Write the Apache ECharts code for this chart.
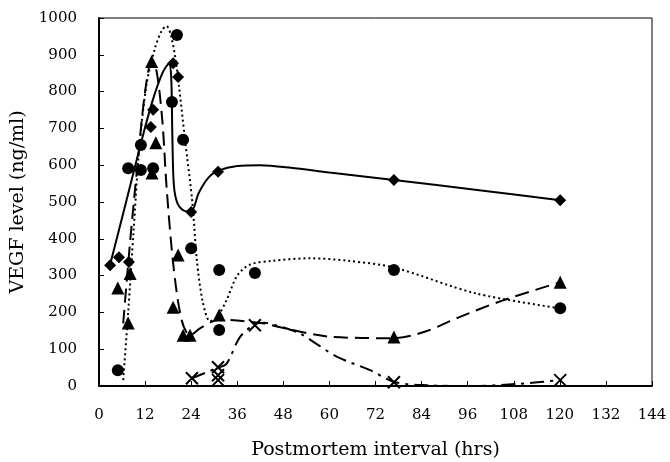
<!DOCTYPE html>
<html>
<head>
<meta charset="utf-8">
<script src="https://cdn.jsdelivr.net/npm/echarts@6/dist/echarts.min.js"></script>
<style>
  html, body { margin: 0; padding: 0; background: #fff; }
  #chart { width: 670px; height: 462px; }
</style>
</head>
<body>
<div id="chart"></div>
<script>
// measured points [hours, ng/ml]
const diamondPts = [[2.9, 328], [5.2, 350], [7.8, 337], [13.5, 704], [14.1, 751], [19.3, 877], [20.6, 840], [24.0, 473], [31.0, 582], [76.8, 560], [120.1, 505]]
const circlePts = [[4.9, 43], [7.6, 592], [10.9, 587], [10.9, 655], [14.1, 592], [19.0, 772], [20.3, 954], [21.9, 669], [24.0, 374], [31.3, 315], [31.3, 152], [40.6, 307], [76.8, 315], [120.1, 211]]
const trianglePts = [[4.9, 266], [7.6, 171], [8.1, 306], [13.7, 882], [13.8, 579], [14.8, 661], [19.3, 214], [20.6, 356], [21.9, 138], [23.7, 138], [31.3, 193], [76.8, 133], [120.1, 282]]
const crossPts = [[24.2, 21], [31.0, 51], [31.0, 29], [31.0, 16], [40.6, 165], [76.8, 10], [120.1, 16]]

// fitted curves
const solidCurve = [[2.9, 330], [7.3, 510], [10.8, 655], [13.8, 770], [16.5, 850], [18.2, 876], [18.8, 840], [19.1, 680], [19.5, 545], [20.5, 495], [22.5, 475], [24.0, 475], [26.0, 525], [28.5, 566], [31.0, 585], [36.0, 598], [42.0, 600], [50.0, 593], [60.0, 580], [76.8, 560], [99.0, 532], [120.1, 505]]
const dottedCurve = [[6.3, 16], [7.6, 200], [9.0, 420], [10.5, 650], [12.4, 821], [14.5, 915], [16.3, 965], [17.6, 978], [18.8, 950], [20.2, 868], [22.4, 669], [24.3, 500], [25.5, 340], [27.0, 230], [28.9, 176], [30.8, 188], [33.2, 233], [36.0, 300], [39.3, 330], [45.0, 340], [55.0, 347], [65.0, 340], [76.8, 322], [98.0, 252], [120.1, 211]]
const dashedCurve = [[6.3, 170], [8.0, 380], [10.0, 600], [12.0, 800], [13.7, 882], [15.0, 855], [16.5, 720], [17.6, 540], [19.4, 325], [21.5, 180], [23.7, 138], [26.5, 158], [31.3, 180], [42.0, 171], [50.0, 153], [60.0, 134], [76.8, 130], [85.0, 148], [94.0, 188], [105.0, 232], [120.1, 282]]
const dashDotCurve = [[24.2, 21], [31.0, 50], [33.2, 60], [36.7, 133], [40.6, 168], [43.0, 172], [47.0, 162], [52.3, 143], [57.0, 112], [62.0, 79], [70.6, 43], [76.9, 11], [85.3, 2], [97.5, 0], [109.6, 6], [120.1, 16]]

const xName = 'Postmortem interval (hrs)'
const yName = 'VEGF level (ng/ml)'

const chart = echarts.init(document.getElementById('chart'))
const serif = '"DejaVu Serif", serif'

const curve = (data, type) => ({
  type: 'line',
  data: data,
  smooth: 0.3,
  showSymbol: false,
  symbol: 'none',
  silent: true,
  z: 2,
  lineStyle: { color: '#000', width: 2, type: type, opacity: 1 }
})

const marks = (data, symbol, size, style) => ({
  type: 'scatter',
  data: data,
  symbol: symbol,
  symbolSize: size,
  z: 5,
  itemStyle: Object.assign({ color: '#000', opacity: 1 }, style || {})
})

chart.setOption({
  animation: false,
  grid: {
    left: 99, right: 18, top: 18, bottom: 76,
    outerBoundsMode: 'none',
    show: true, borderColor: '#000', borderWidth: 1
  },
  xAxis: {
    type: 'value',
    min: 0, max: 144, interval: 12,
    name: xName,
    nameLocation: 'middle',
    nameGap: 55,
    nameTextStyle: { fontFamily: serif, fontSize: 19, color: '#000' },
    axisLine: { lineStyle: { color: '#000', width: 2 } },
    axisTick: { inside: true, length: 5, lineStyle: { color: '#000' } },
    axisLabel: { margin: 22, fontFamily: serif, fontSize: 15, color: '#000' },
    splitLine: { show: false }
  },
  yAxis: {
    type: 'value',
    min: 0, max: 1000, interval: 100,
    name: yName,
    nameLocation: 'middle',
    nameGap: 60,
    nameTextStyle: { fontFamily: serif, fontSize: 19, color: '#000' },
    axisLine: { show: true, lineStyle: { color: '#000', width: 2 } },
    axisTick: { show: true, inside: true, length: 5, lineStyle: { color: '#000' } },
    axisLabel: { margin: 22, fontFamily: serif, fontSize: 15, color: '#000', formatter: v => String(v) },
    splitLine: { show: false }
  },
  series: [
    curve(solidCurve, 'solid'),
    curve(dottedCurve, [2, 3]),
    curve(dashedCurve, [14, 7]),
    curve(dashDotCurve, [14, 6, 3, 6]),
    marks(diamondPts, 'diamond', 12),
    marks(circlePts, 'circle', 12),
    marks(trianglePts, 'triangle', 13),
    marks(crossPts, 'path://M0,0L10,10M10,0L0,10', 12, { color: 'none', borderColor: '#000', borderWidth: 2 })
  ]
})
</script>
</body>
</html>
